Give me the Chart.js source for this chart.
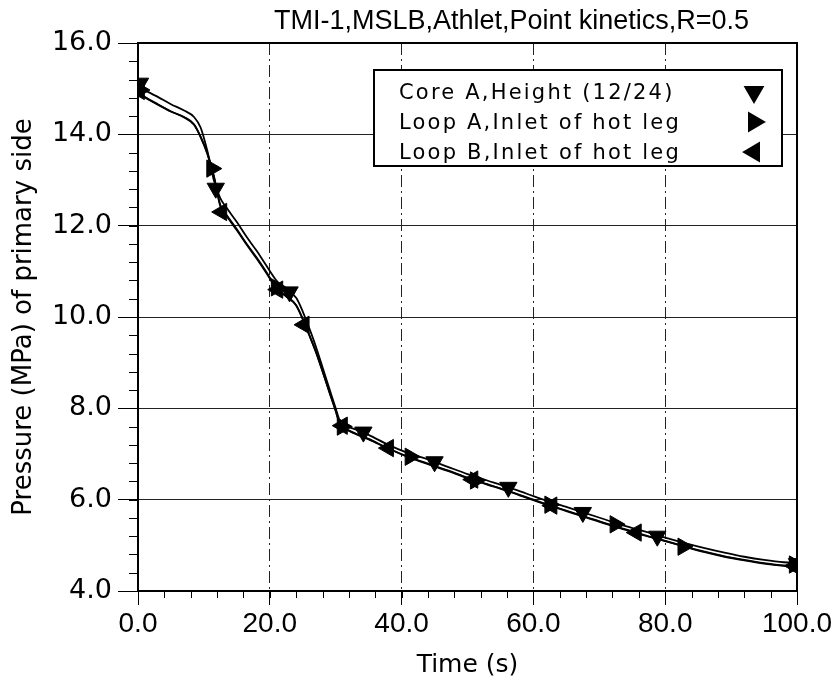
<!DOCTYPE html>
<html>
<head>
<meta charset="utf-8">
<script src="https://cdn.jsdelivr.net/npm/chart.js@4.4.1/dist/chart.umd.min.js"></script>
<style>
  html, body { margin: 0; padding: 0; background: #fff; }
  #wrap { width: 832px; height: 688px; }
</style>
</head>
<body>
<div id="wrap"><canvas id="pressureChart"></canvas></div>
<script>
// time axis (s), shared by the three curves
const timeS = [0, 0.5, 1.5, 3, 5, 7, 8.5, 9.5, 10.5, 11.5, 12.5, 13.5, 15, 16.5, 18, 19.5, 21, 22.5, 24, 25,
  26, 27, 28, 29, 30, 30.7, 31.5, 33, 35, 38, 41, 44, 47, 50, 53, 56, 59, 62, 65, 68,
  71, 74, 77, 80, 83, 86, 89, 92, 95, 98, 100];

// pressure (MPa)
const coreA = [15.05, 15.0, 14.93, 14.82, 14.66, 14.52, 14.38, 14.15, 13.65, 13.0, 12.6, 12.38, 12.08, 11.75, 11.45, 11.12, 10.8, 10.6, 10.42, 10.12,
  9.75, 9.35, 8.9, 8.45, 8.0, 7.7, 7.62, 7.54, 7.42, 7.2, 7.02, 6.88, 6.72, 6.56, 6.42, 6.28, 6.13, 5.98, 5.84, 5.7,
  5.56, 5.42, 5.3, 5.17, 5.05, 4.94, 4.84, 4.75, 4.68, 4.63, 4.62];
const loopA = [14.98, 14.88, 14.78, 14.66, 14.5, 14.38, 14.22, 13.95, 13.6, 13.1, 12.45, 12.22, 11.92, 11.6, 11.3, 10.98, 10.64, 10.46, 10.26, 9.96,
  9.6, 9.24, 8.82, 8.38, 7.95, 7.63, 7.55, 7.45, 7.33, 7.12, 6.94, 6.79, 6.64, 6.48, 6.34, 6.2, 6.05, 5.9, 5.76, 5.62,
  5.48, 5.35, 5.22, 5.1, 4.97, 4.86, 4.76, 4.68, 4.61, 4.56, 4.55];
const loopB = [14.95, 14.86, 14.77, 14.65, 14.5, 14.37, 14.21, 13.94, 13.58, 13.08, 12.42, 12.2, 11.9, 11.58, 11.28, 10.96, 10.62, 10.45, 10.25, 9.95,
  9.6, 9.23, 8.81, 8.37, 7.94, 7.62, 7.54, 7.44, 7.32, 7.12, 6.93, 6.78, 6.63, 6.47, 6.33, 6.19, 6.04, 5.89, 5.75, 5.61,
  5.47, 5.34, 5.21, 5.09, 4.97, 4.85, 4.75, 4.67, 4.6, 4.55, 4.53];

// marker positions on each curve
const coreAMarkT = [0.3, 11.8, 23, 34.2, 45, 56.2, 67.5, 78.8, 100];
const coreAMarkP = [15.12, 12.82, 10.55, 7.48, 6.83, 6.27, 5.72, 5.2, 4.6];
const loopAMarkT = [0.3, 11.2, 21, 31, 41.3, 51.2, 62.5, 72.4, 82.7, 99.6];
const loopAMarkP = [14.97, 13.25, 10.65, 7.6, 6.94, 6.42, 5.89, 5.46, 4.97, 4.58];
const loopBMarkT = [0.2, 12.7, 21.2, 25.2, 31, 38, 50.8, 62.8, 75.6, 99.6];
const loopBMarkP = [14.95, 12.3, 10.6, 9.83, 7.62, 7.13, 6.44, 5.87, 5.28, 4.55];

const seriesNames = ['Core A,Height (12/24)', 'Loop A,Inlet of hot leg', 'Loop B,Inlet of hot leg'];
const markerRotation = [180, 90, -90];
const chartTitle = 'TMI-1,MSLB,Athlet,Point kinetics,R=0.5';

const xTicks = [0, 20, 40, 60, 80, 100];
const yTicks = [4, 6, 8, 10, 12, 14, 16];

function pts(xs, ys) {
    return xs.map((t, i) => ({ x: t, y: ys[i] }));
}

function lineSet(ys) {
    return {
        data: pts(timeS, ys),
        showLine: true,
        borderColor: '#000',
        borderWidth: 1.8,
        pointRadius: 0,
        fill: false,
        cubicInterpolationMode: 'monotone'
    };
}

function markSet(xs, ys, rot) {
    return {
        data: pts(xs, ys),
        showLine: false,
        pointStyle: 'triangle',
        rotation: rot,
        pointRadius: 10,
        pointHoverRadius: 10,
        backgroundColor: '#000',
        borderColor: '#000',
        borderWidth: 1
    };
}

// title, frame, minor ticks and the boxed legend
const decorations = {
    id: 'decorations',
    beforeDatasetsDraw(chart) {
        const { ctx, chartArea: a, scales: { x, y } } = chart;
        ctx.save();
        ctx.strokeStyle = '#000';
        ctx.lineWidth = 1;
        ctx.beginPath();
        for (let v = 4; v <= 16.001; v += 0.4) {
            const py = Math.round(y.getPixelForValue(v)) + 0.5;
            ctx.moveTo(a.left - 9, py);
            ctx.lineTo(a.left, py);
        }
        for (let v = 0; v <= 100.001; v += 4) {
            const px = Math.round(x.getPixelForValue(v)) + 0.5;
            ctx.moveTo(px, a.bottom);
            ctx.lineTo(px, a.bottom + 7);
        }
        ctx.stroke();
        ctx.lineWidth = 2;
        ctx.strokeRect(a.left, a.top, a.right - a.left, a.bottom - a.top);

        ctx.fillStyle = '#000';
        ctx.font = '27px "Liberation Sans"';
        ctx.textAlign = 'center';
        ctx.textBaseline = 'alphabetic';
        ctx.fillText(chartTitle, (a.left + a.right) / 2 + 44, a.top - 14);
        ctx.restore();
    },
    afterDraw(chart) {
        const { ctx, chartArea: a } = chart;
        const bx = a.left + 236, by = a.top + 27, bw = 408, bh = 96;
        ctx.save();
        ctx.fillStyle = '#fff';
        ctx.fillRect(bx, by, bw, bh);
        ctx.strokeStyle = '#000';
        ctx.lineWidth = 2;
        ctx.strokeRect(bx, by, bw, bh);
        ctx.fillStyle = '#000';
        ctx.font = '21px "DejaVu Sans"';
        ctx.letterSpacing = '2.2px';
        ctx.textBaseline = 'alphabetic';
        seriesNames.forEach((name, i) => {
            const ty = by + 29 + i * 30;
            ctx.fillText(name, bx + 25, ty);
            Chart.helpers.drawPoint(ctx, {
                pointStyle: 'triangle', rotation: markerRotation[i], radius: 10, borderWidth: 1
            }, bx + bw - 28, ty - 7);
            ctx.fill();
        });
        ctx.restore();
    }
};

const ctx = document.getElementById('pressureChart').getContext('2d');
new Chart(ctx, {
    type: 'scatter',
    data: {
        datasets: [
            lineSet(coreA), lineSet(loopA), lineSet(loopB),
            markSet(coreAMarkT, coreAMarkP, markerRotation[0]),
            markSet(loopAMarkT, loopAMarkP, markerRotation[1]),
            markSet(loopBMarkT, loopBMarkP, markerRotation[2])
        ]
    },
    options: {
        responsive: true,
        maintainAspectRatio: false,
        animation: false,
        events: [],
        layout: { padding: { left: 0, right: 0, top: 43, bottom: 0 } },
        plugins: {
            legend: { display: false },
            tooltip: { enabled: false },
            title: { display: false }
        },
        scales: {
            x: {
                type: 'linear',
                min: 0, max: 100,
                afterBuildTicks: s => { s.ticks = xTicks.map(v => ({ value: v })); },
                afterFit: s => { s.height = 97; s.paddingRight = 35; },
                ticks: {
                    color: '#000',
                    font: { family: 'Liberation Sans', size: 28 },
                    padding: 2,
                    maxRotation: 0,
                    callback: v => v.toFixed(1)
                },
                title: {
                    display: true,
                    text: 'Time (s)',
                    color: '#000',
                    font: { family: 'DejaVu Sans', size: 25 },
                    padding: { top: 0, bottom: 8 }
                },
                grid: {
                    color: '#222',
                    lineWidth: 1,
                    tickLength: 14,
                    tickColor: '#000',
                    tickBorderDash: []
                },
                border: { color: '#000', width: 2, dash: [12, 4, 2, 4] }
            },
            y: {
                type: 'linear',
                min: 4, max: 16,
                afterBuildTicks: s => { s.ticks = yTicks.map(v => ({ value: v })); },
                afterFit: s => { s.width = 138; },
                ticks: {
                    color: '#000',
                    font: { family: 'DejaVu Sans', size: 27 },
                    padding: 6,
                    callback: v => v.toFixed(1)
                },
                title: {
                    display: true,
                    text: 'Pressure (MPa) of primary side',
                    color: '#000',
                    font: { family: 'DejaVu Sans', size: 26 },
                    padding: { top: 9, bottom: 4 }
                },
                grid: {
                    color: '#222',
                    lineWidth: 1,
                    tickLength: 20,
                    tickColor: '#000'
                },
                border: { color: '#000', width: 2 }
            }
        }
    },
    plugins: [decorations]
});
</script>
</body>
</html>
